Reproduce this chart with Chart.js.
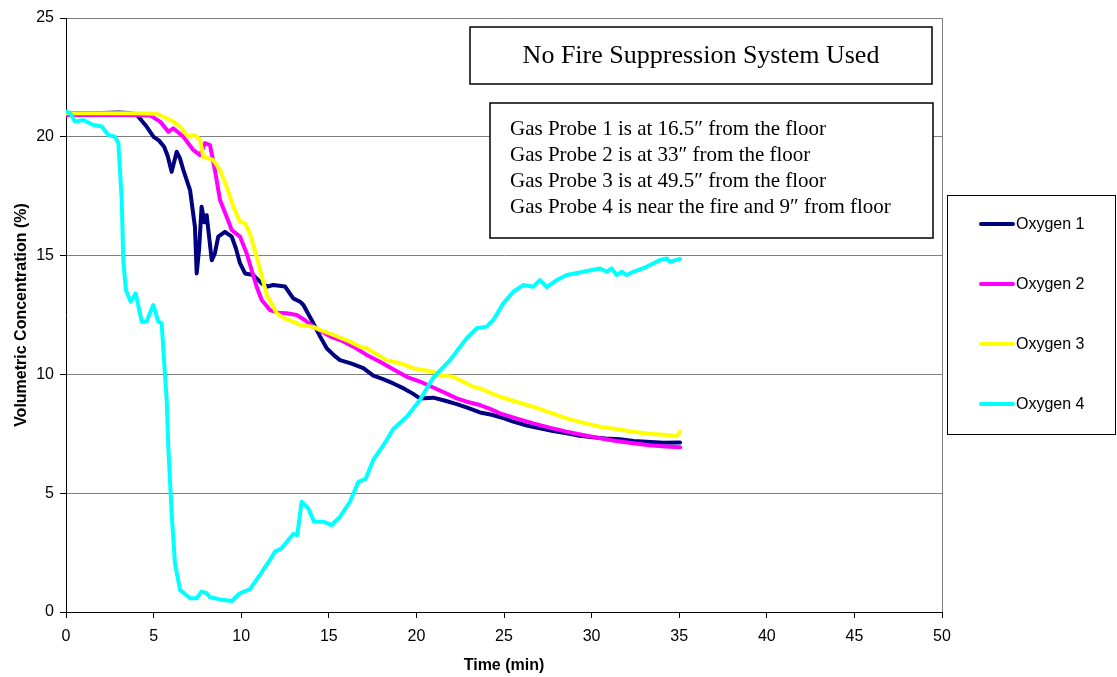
<!DOCTYPE html>
<html>
<head>
<meta charset="utf-8">
<script src="https://cdn.jsdelivr.net/npm/chart.js@4.4.1/dist/chart.umd.min.js"></script>
<style>
  html, body { margin: 0; padding: 0; background: #fff; }
  #wrap { width: 1117px; height: 677px; }
</style>
</head>
<body>
<div id="wrap"><canvas id="c" width="1117" height="677"></canvas></div>
<script>
// Oxygen concentration at four gas probes, time in minutes
const time1 = [0, 1, 2, 3, 3.6, 4.0, 4.3, 4.6, 5.0, 5.3, 5.6, 5.8, 6.03, 6.32, 6.5, 6.7, 7.08, 7.36, 7.46, 7.6, 7.74, 7.9, 8.03, 8.32, 8.5, 8.69, 9.07, 9.46, 9.7, 9.93, 10.22, 10.69, 11.17, 11.5, 11.83, 12.5, 12.97, 13.36, 13.55, 14.12, 14.5, 14.88, 15.3, 15.64, 16.3, 16.97, 17.54, 18.1, 18.68, 19.3, 19.82, 20.2, 20.96, 21.6, 22.3, 22.9, 23.63, 24.3, 25.0, 25.53, 26.3, 27.05, 27.8, 28.58, 29.3, 30.1, 30.8, 31.62, 32.4, 33.14, 34.1, 35.05];
const oxygen1 = [21.0, 21.0, 21.0, 21.02, 21.0, 20.95, 20.7, 20.43, 20.0, 19.85, 19.58, 19.2, 18.53, 19.37, 19.1, 18.6, 17.76, 16.2, 14.25, 15.3, 17.06, 16.4, 16.7, 14.8, 15.1, 15.8, 16.0, 15.8, 15.3, 14.68, 14.25, 14.18, 13.83, 13.7, 13.76, 13.7, 13.2, 13.06, 12.92, 12.15, 11.6, 11.1, 10.8, 10.6, 10.45, 10.26, 9.95, 9.8, 9.62, 9.4, 9.18, 8.99, 9.02, 8.9, 8.75, 8.6, 8.4, 8.3, 8.15, 8.01, 7.85, 7.73, 7.62, 7.52, 7.42, 7.35, 7.3, 7.27, 7.2, 7.17, 7.12, 7.13];

const time2 = [0, 2, 4, 4.8, 5.37, 5.84, 6.12, 6.7, 7.27, 7.65, 7.93, 8.22, 8.5, 8.79, 9.17, 9.46, 9.93, 10.31, 10.88, 11.17, 11.64, 12.1, 12.6, 13.17, 13.6, 14.12, 15.07, 15.8, 16.4, 17.16, 17.92, 18.6, 19.45, 20.2, 20.96, 21.7, 22.3, 22.87, 23.63, 24.2, 24.77, 25.7, 26.67, 27.6, 28.58, 29.5, 30.48, 31.4, 32.38, 33.3, 34.2, 35.05];
const oxygen2 = [20.92, 20.92, 20.92, 20.9, 20.64, 20.21, 20.36, 20.0, 19.44, 19.23, 19.73, 19.65, 18.6, 17.34, 16.64, 16.08, 15.8, 15.1, 13.69, 13.13, 12.71, 12.6, 12.57, 12.5, 12.3, 12.0, 11.6, 11.4, 11.17, 10.82, 10.53, 10.25, 9.9, 9.7, 9.45, 9.2, 8.99, 8.85, 8.71, 8.55, 8.36, 8.15, 7.94, 7.76, 7.59, 7.45, 7.31, 7.2, 7.1, 7.02, 6.97, 6.93];

const time3 = [0, 2, 4, 5.17, 5.75, 6.1, 6.5, 6.98, 7.36, 7.65, 7.84, 8.1, 8.41, 8.79, 9.17, 9.55, 9.93, 10.22, 10.5, 10.88, 11.46, 12.03, 12.5, 12.97, 13.36, 14.12, 14.5, 15.26, 16.21, 16.78, 17.16, 18.3, 19.06, 19.82, 20.96, 21.35, 22.1, 22.68, 23.25, 23.63, 24.77, 25.7, 26.67, 27.6, 28.58, 29.5, 30.48, 31.4, 32.38, 33.3, 34.29, 34.86, 35.05];
const oxygen3 = [20.99, 20.99, 20.99, 20.97, 20.78, 20.65, 20.43, 20.0, 20.08, 19.87, 19.16, 19.1, 19.02, 18.6, 17.9, 17.06, 16.43, 16.36, 15.94, 14.95, 13.35, 12.57, 12.35, 12.22, 12.08, 12.0, 11.87, 11.66, 11.38, 11.17, 11.1, 10.6, 10.47, 10.26, 10.11, 9.97, 9.9, 9.69, 9.48, 9.41, 9.06, 8.85, 8.64, 8.4, 8.15, 7.97, 7.8, 7.7, 7.59, 7.5, 7.45, 7.41, 7.59];

const time4 = [0, 0.23, 0.51, 0.99, 1.56, 2.04, 2.41, 2.8, 2.99, 3.18, 3.27, 3.42, 3.69, 3.98, 4.32, 4.6, 4.79, 4.98, 5.27, 5.46, 5.65, 5.75, 5.84, 6.03, 6.22, 6.51, 7.08, 7.46, 7.74, 8.03, 8.22, 8.79, 9.46, 9.93, 10.5, 11.07, 11.64, 11.93, 12.31, 12.69, 12.97, 13.2, 13.45, 13.83, 14.16, 14.69, 15.16, 15.64, 16.21, 16.69, 17.1, 17.54, 18.1, 18.68, 19.45, 20.2, 20.96, 21.92, 22.87, 23.44, 24.01, 24.39, 24.96, 25.53, 26.1, 26.67, 27.05, 27.44, 28.01, 28.58, 29.53, 30.48, 30.86, 31.15, 31.43, 31.72, 32.0, 32.38, 33.14, 33.9, 34.29, 34.47, 35.05];
const oxygen4 = [21.06, 21.0, 20.64, 20.71, 20.5, 20.43, 20.08, 20.0, 19.73, 17.34, 14.81, 13.55, 13.06, 13.41, 12.22, 12.22, 12.57, 12.92, 12.22, 12.15, 9.97, 8.92, 6.96, 4.15, 2.05, 0.93, 0.58, 0.58, 0.86, 0.79, 0.62, 0.53, 0.46, 0.79, 0.96, 1.56, 2.19, 2.54, 2.68, 3.03, 3.28, 3.24, 4.64, 4.36, 3.8, 3.8, 3.66, 4.01, 4.64, 5.48, 5.6, 6.4, 7.0, 7.7, 8.22, 8.92, 9.86, 10.6, 11.52, 11.94, 12.01, 12.29, 12.99, 13.48, 13.76, 13.69, 13.97, 13.67, 13.97, 14.18, 14.32, 14.46, 14.32, 14.46, 14.18, 14.32, 14.18, 14.32, 14.53, 14.81, 14.88, 14.74, 14.86];

const seriesNames = ['Oxygen 1', 'Oxygen 2', 'Oxygen 3', 'Oxygen 4'];
const seriesColors = ['#000080', '#FF00FF', '#FFFF00', '#00FFFF'];
const xTicksStep = 5, xMax = 50, yTicksStep = 5, yMax = 25;

const titleText = 'No Fire Suppression System Used';
const noteLines = [
  'Gas Probe 1 is at 16.5\u2033 from the floor',
  'Gas Probe 2 is at 33\u2033 from the floor',
  'Gas Probe 3 is at 49.5\u2033 from the floor',
  'Gas Probe 4 is near the fire and 9\u2033 from floor'
];

const times = [time1, time2, time3, time4];
const values = [oxygen1, oxygen2, oxygen3, oxygen4];

const datasets = values.map((vals, i) => ({
  label: seriesNames[i],
  data: vals.map((v, k) => ({ x: times[i][k], y: v })),
  borderColor: seriesColors[i],
  backgroundColor: seriesColors[i],
  borderWidth: 4,
  pointRadius: 0,
  tension: 0,
  fill: false,
  borderJoinStyle: 'round',
  borderCapStyle: 'round',
  order: 3 - i   // later series are painted over earlier ones
}));

// Text boxes, plot frame and the boxed legend
const decorations = {
  id: 'decorations',
  afterDraw(chart) {
    const ctx = chart.ctx;
    const a = chart.chartArea;
    ctx.save();
    // right-hand frame of the plot area
    ctx.strokeStyle = '#808080';
    ctx.lineWidth = 1;
    ctx.beginPath();
    ctx.moveTo(Math.round(a.right) + 0.5, a.top);
    ctx.lineTo(Math.round(a.right) + 0.5, a.bottom);
    ctx.stroke();

    // title box
    ctx.fillStyle = '#fff';
    ctx.strokeStyle = '#000';
    ctx.lineWidth = 1.5;
    ctx.fillRect(470, 27, 462, 57);
    ctx.strokeRect(470, 27, 462, 57);
    ctx.fillStyle = '#000';
    ctx.font = '26px "Liberation Serif"';
    ctx.textAlign = 'center';
    ctx.textBaseline = 'middle';
    ctx.fillText(titleText, 701, 56);

    // probe notes box
    ctx.fillStyle = '#fff';
    ctx.fillRect(490, 103, 443, 135);
    ctx.strokeRect(490, 103, 443, 135);
    ctx.fillStyle = '#000';
    ctx.font = '21px "Liberation Serif"';
    ctx.textAlign = 'left';
    noteLines.forEach((t, i) => ctx.fillText(t, 510, 129 + i * 26));

    // legend
    ctx.strokeStyle = '#000';
    ctx.lineWidth = 1;
    ctx.fillStyle = '#fff';
    ctx.fillRect(947.5, 195.5, 168, 239);
    ctx.strokeRect(947.5, 195.5, 168, 239);
    ctx.font = '16px "Liberation Sans"';
    chart.data.datasets.forEach((ds, i) => {
      const y = 224 + i * 60;
      ctx.strokeStyle = ds.borderColor;
      ctx.lineWidth = 4;
      ctx.lineCap = 'round';
      ctx.beginPath();
      ctx.moveTo(981, y);
      ctx.lineTo(1013, y);
      ctx.stroke();
      ctx.fillStyle = '#000';
      ctx.fillText(ds.label, 1016, y + 1);
    });
    ctx.restore();
  }
};

new Chart(document.getElementById('c'), {
  type: 'line',
  data: { datasets },
  options: {
    responsive: false,
    animation: false,
    layout: { padding: { left: 0, right: 175, top: 18, bottom: 0 } },
    plugins: { legend: { display: false }, tooltip: { enabled: false } },
    scales: {
      x: {
        type: 'linear',
        min: 0, max: xMax,
        ticks: { stepSize: xTicksStep, color: '#000', padding: 9, maxRotation: 0,
                 font: { family: '"Liberation Sans"', size: 16 } },
        grid: { drawOnChartArea: false, drawTicks: true, tickLength: 6, color: '#000', tickColor: '#000' },
        border: { display: true, color: '#000', width: 1 },
        title: { display: true, text: 'Time (min)', color: '#000',
                 font: { family: '"Liberation Sans"', size: 16, weight: 'bold' },
                 padding: { top: 4, bottom: 2 } },
        afterFit(scale) { scale.height = 65; }
      },
      y: {
        min: 0, max: yMax,
        ticks: { stepSize: yTicksStep, color: '#000', padding: 6,
                 font: { family: '"Liberation Sans"', size: 16 } },
        grid: { color: '#808080', tickColor: '#000', tickLength: 6, lineWidth: 1 },
        border: { display: true, color: '#000', width: 1 },
        title: { display: true, text: 'Volumetric Concentration (%)', color: '#000',
                 font: { family: '"Liberation Sans"', size: 16, weight: 'bold' },
                 padding: { top: 12, bottom: 4 } },
        afterFit(scale) { scale.width = 66; }
      }
    }
  },
  plugins: [decorations]
});
</script>
</body>
</html>
